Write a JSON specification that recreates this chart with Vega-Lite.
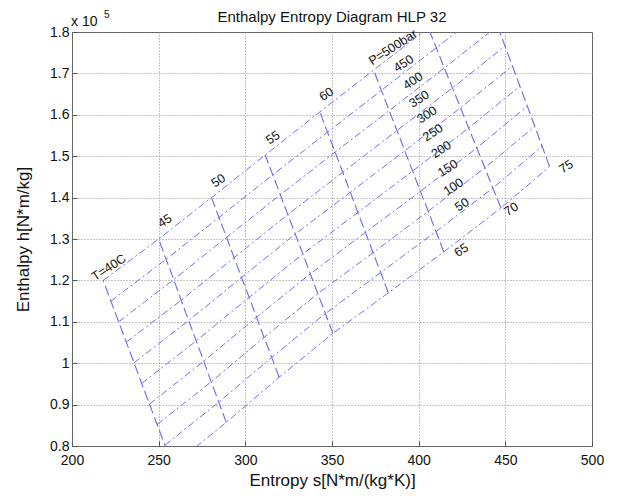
{
  "$schema": "https://vega.github.io/schema/vega-lite/v6.json",
  "width": 520,
  "height": 414,
  "autosize": {"type": "none"},
  "padding": {"left": 72, "top": 32, "right": 39, "bottom": 50},
  "background": "white",
  "title": {"text": "Enthalpy Entropy Diagram HLP 32", "fontSize": 15, "fontWeight": "normal", "color": "#111", "offset": 7, "dy": 22, "anchor": "middle"},
  "config": {
    "font": "Liberation Sans",
    "view": {"stroke": "#555", "strokeWidth": 1},
    "axis": {
      "grid": true, "gridColor": "#8a8a8a", "gridDash": [1, 2], "gridWidth": 1, "gridOpacity": 1,
      "domain": false, "ticks": true, "tickSize": -5, "tickColor": "#555",
      "labelFont": "Liberation Sans", "labelFontSize": 14, "labelColor": "#111",
      "titleFont": "Liberation Sans", "titleFontSize": 17, "titleFontWeight": "normal", "titleColor": "#111"
    }
  },
  "datasets": {
    "grid": [
      {"T": 40, "P": 500, "s": 218.0, "h": 120000}, {"T": 40, "P": 450, "s": 222.4, "h": 115000}, {"T": 40, "P": 400, "s": 226.9, "h": 110000}, {"T": 40, "P": 350, "s": 231.3, "h": 105100}, {"T": 40, "P": 300, "s": 235.8, "h": 100100}, {"T": 40, "P": 250, "s": 240.2, "h": 95100}, {"T": 40, "P": 200, "s": 244.7, "h": 90100}, {"T": 40, "P": 150, "s": 249.1, "h": 85200}, {"T": 40, "P": 100, "s": 253.6, "h": 80200}, {"T": 40, "P": 50, "s": 258.0, "h": 75200},
      {"T": 45, "P": 500, "s": 250.0, "h": 130000}, {"T": 45, "P": 450, "s": 254.3, "h": 125100}, {"T": 45, "P": 400, "s": 258.7, "h": 120200}, {"T": 45, "P": 350, "s": 263.0, "h": 115200}, {"T": 45, "P": 300, "s": 267.3, "h": 110300}, {"T": 45, "P": 250, "s": 271.7, "h": 105400}, {"T": 45, "P": 200, "s": 276.0, "h": 100500}, {"T": 45, "P": 150, "s": 280.3, "h": 95500}, {"T": 45, "P": 100, "s": 284.7, "h": 90600}, {"T": 45, "P": 50, "s": 289.0, "h": 85700},
      {"T": 50, "P": 500, "s": 280.5, "h": 140000}, {"T": 50, "P": 450, "s": 284.8, "h": 135200}, {"T": 50, "P": 400, "s": 289.2, "h": 130400}, {"T": 50, "P": 350, "s": 293.5, "h": 125500}, {"T": 50, "P": 300, "s": 297.8, "h": 120700}, {"T": 50, "P": 250, "s": 302.2, "h": 115900}, {"T": 50, "P": 200, "s": 306.5, "h": 111100}, {"T": 50, "P": 150, "s": 310.8, "h": 106200}, {"T": 50, "P": 100, "s": 315.2, "h": 101400}, {"T": 50, "P": 50, "s": 319.5, "h": 96600},
      {"T": 55, "P": 500, "s": 311.5, "h": 150300}, {"T": 55, "P": 450, "s": 315.8, "h": 145500}, {"T": 55, "P": 400, "s": 320.2, "h": 140700}, {"T": 55, "P": 350, "s": 324.5, "h": 135900}, {"T": 55, "P": 300, "s": 328.8, "h": 131200}, {"T": 55, "P": 250, "s": 333.2, "h": 126400}, {"T": 55, "P": 200, "s": 337.5, "h": 121600}, {"T": 55, "P": 150, "s": 341.8, "h": 116800}, {"T": 55, "P": 100, "s": 346.2, "h": 112000}, {"T": 55, "P": 50, "s": 350.5, "h": 107200},
      {"T": 60, "P": 500, "s": 343.0, "h": 160700}, {"T": 60, "P": 450, "s": 347.4, "h": 155800}, {"T": 60, "P": 400, "s": 351.8, "h": 151000}, {"T": 60, "P": 350, "s": 356.2, "h": 146100}, {"T": 60, "P": 300, "s": 360.6, "h": 141300}, {"T": 60, "P": 250, "s": 364.9, "h": 136400}, {"T": 60, "P": 200, "s": 369.3, "h": 131600}, {"T": 60, "P": 150, "s": 373.7, "h": 126700}, {"T": 60, "P": 100, "s": 378.1, "h": 121900}, {"T": 60, "P": 50, "s": 382.5, "h": 117000},
      {"T": 65, "P": 500, "s": 374.0, "h": 170800}, {"T": 65, "P": 450, "s": 378.5, "h": 165900}, {"T": 65, "P": 400, "s": 383.0, "h": 161000}, {"T": 65, "P": 350, "s": 387.5, "h": 156200}, {"T": 65, "P": 300, "s": 392.0, "h": 151300}, {"T": 65, "P": 250, "s": 396.5, "h": 146400}, {"T": 65, "P": 200, "s": 401.0, "h": 141500}, {"T": 65, "P": 150, "s": 405.5, "h": 136700}, {"T": 65, "P": 100, "s": 410.0, "h": 131800}, {"T": 65, "P": 50, "s": 414.5, "h": 126900},
      {"T": 70, "P": 500, "s": 405.5, "h": 181000}, {"T": 70, "P": 450, "s": 410.2, "h": 176200}, {"T": 70, "P": 400, "s": 414.8, "h": 171300}, {"T": 70, "P": 350, "s": 419.5, "h": 166500}, {"T": 70, "P": 300, "s": 424.2, "h": 161700}, {"T": 70, "P": 250, "s": 428.8, "h": 156800}, {"T": 70, "P": 200, "s": 433.5, "h": 152000}, {"T": 70, "P": 150, "s": 438.2, "h": 147200}, {"T": 70, "P": 100, "s": 442.8, "h": 142300}, {"T": 70, "P": 50, "s": 447.5, "h": 137500},
      {"T": 75, "P": 500, "s": 437.0, "h": 191200}, {"T": 75, "P": 450, "s": 441.3, "h": 186300}, {"T": 75, "P": 400, "s": 445.6, "h": 181500}, {"T": 75, "P": 350, "s": 449.8, "h": 176600}, {"T": 75, "P": 300, "s": 454.1, "h": 171800}, {"T": 75, "P": 250, "s": 458.4, "h": 166900}, {"T": 75, "P": 200, "s": 462.7, "h": 162100}, {"T": 75, "P": 150, "s": 467.0, "h": 157200}, {"T": 75, "P": 100, "s": 471.2, "h": 152400}, {"T": 75, "P": 50, "s": 475.5, "h": 147500}
    ],
    "labels": [
      {"label": "T=40C", "s": 221.2, "h": 123100},
      {"label": "45", "s": 253.6, "h": 134400},
      {"label": "50", "s": 284.4, "h": 144100},
      {"label": "55", "s": 315.9, "h": 154500},
      {"label": "60", "s": 346.7, "h": 165000},
      {"label": "65", "s": 424.6, "h": 127300},
      {"label": "70", "s": 453.4, "h": 137200},
      {"label": "75", "s": 485.1, "h": 147500},
      {"label": "P=500bar", "s": 385.1, "h": 176300},
      {"label": "450", "s": 391.3, "h": 172400},
      {"label": "400", "s": 396.7, "h": 168200},
      {"label": "350", "s": 400.3, "h": 163800},
      {"label": "300", "s": 404.8, "h": 160000},
      {"label": "250", "s": 408.2, "h": 155700},
      {"label": "200", "s": 413.0, "h": 151600},
      {"label": "150", "s": 416.8, "h": 147100},
      {"label": "100", "s": 420.1, "h": 142600},
      {"label": "50", "s": 425.0, "h": 138300}
    ],
    "corner": [
      {"label": "x 10", "s": 200, "h": 180000}
    ],
    "expo": [
      {"label": "5", "s": 200, "h": 180000}
    ]
  },
  "encoding": {
    "x": {
      "field": "s", "type": "quantitative",
      "scale": {"domain": [200, 500], "nice": false, "zero": false},
      "axis": {"title": "Entropy s[N*m/(kg*K)]", "values": [200, 250, 300, 350, 400, 450, 500], "labelPadding": 12, "titlePadding": 5, "labelFlush": false}
    },
    "y": {
      "field": "h", "type": "quantitative",
      "scale": {"domain": [80000, 180000], "nice": false, "zero": false},
      "axis": {"title": "Enthalpy h[N*m/kg]", "values": [80000, 90000, 100000, 110000, 120000, 130000, 140000, 150000, 160000, 170000, 180000], "labelExpr": "format(datum.value/100000, '.1~f')", "labelPadding": 8, "titlePadding": 17, "labelFlush": false}
    }
  },
  "layer": [
    {
      "data": {"name": "grid"},
      "mark": {"type": "line", "clip": true, "color": "#7070f4", "strokeWidth": 1, "strokeDash": [7, 3, 2, 3]},
      "encoding": {"detail": {"field": "P", "type": "nominal"}, "order": {"field": "T", "type": "quantitative"}}
    },
    {
      "data": {"name": "grid"},
      "mark": {"type": "line", "clip": true, "color": "#6b6bf2", "strokeWidth": 1.1, "strokeDash": [10, 4]},
      "encoding": {"detail": {"field": "T", "type": "nominal"}, "order": {"field": "P", "type": "quantitative"}}
    },
    {
      "data": {"name": "labels"},
      "mark": {"type": "text", "font": "Liberation Sans", "fontSize": 12.5, "angle": -33, "align": "center", "baseline": "middle", "color": "#111"},
      "encoding": {"text": {"field": "label"}}
    },
    {
      "data": {"name": "corner"},
      "mark": {"type": "text", "font": "Liberation Sans", "fontSize": 14, "align": "left", "baseline": "alphabetic", "dx": -1, "dy": -6, "color": "#111"},
      "encoding": {"text": {"field": "label"}}
    },
    {
      "data": {"name": "expo"},
      "mark": {"type": "text", "font": "Liberation Sans", "fontSize": 10, "align": "left", "baseline": "alphabetic", "dx": 32, "dy": -14, "color": "#111"},
      "encoding": {"text": {"field": "label"}}
    }
  ]
}
